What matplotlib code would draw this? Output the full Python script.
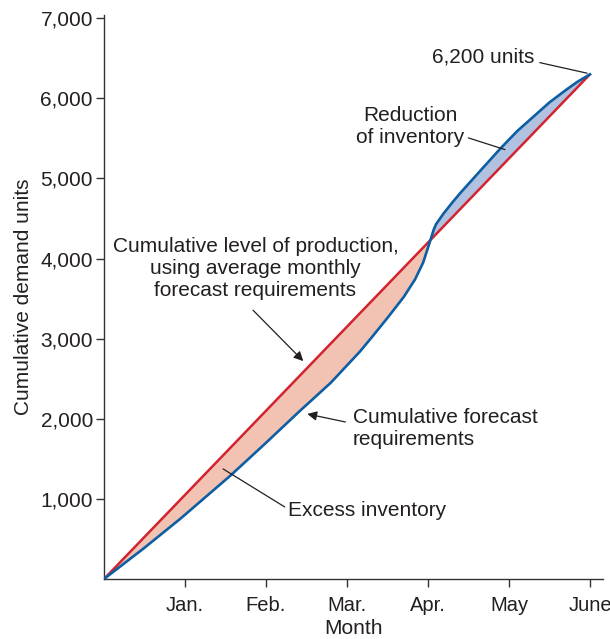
import numpy as np
import matplotlib
matplotlib.use("Agg")
import matplotlib.pyplot as plt

plt.rcParams['font.family'] = ['Liberation Sans', 'DejaVu Sans']

# Data (months since start; cumulative units)
month_ticks = [1, 2, 3, 4, 5, 6]
month_labels = ["Jan.", "Feb.", "Mar.", "Apr.", "May", "June"]
y_ticks = [1000, 2000, 3000, 4000, 5000, 6000, 7000]

production_x = [0, 6]
production_y = [0, 6300]

forecast_x = [0, 0.5, 0.94, 1.56, 2.0, 2.42, 2.8, 3.16, 3.3, 3.5, 3.7, 3.84, 3.94, 4.02,
              4.07, 4.1, 4.19, 4.3, 4.4, 4.64, 4.89, 5.1, 5.3, 5.5, 5.71, 5.85, 6.0]
forecast_y = [0, 390, 750, 1290, 1700, 2100, 2450, 2840, 3010, 3260, 3520, 3740, 3950, 4200,
              4360, 4430, 4560, 4700, 4820, 5090, 5370, 5590, 5770, 5950, 6110, 6210, 6300]

RED = "#d2232f"
BLUE = "#0d5ea3"
FILL_RED = "#f2c3b3"
FILL_BLUE = "#b1c1e0"
AX = "#333333"
TC = "#231f20"
FS = 15

fig = plt.figure(figsize=(6.10, 6.39), dpi=100)
ax = fig.add_axes([104/610, 1-579/639, (603-104)/610, (579-15)/639])

fx = np.array(forecast_x)
fy = np.array(forecast_y)
py = np.interp(fx, production_x, production_y)

ax.fill_between(fx, fy, py, where=py >= fy, interpolate=True, color=FILL_RED, lw=0, zorder=1)
ax.fill_between(fx, fy, py, where=py <= fy, interpolate=True, color=FILL_BLUE, lw=0, zorder=1)
ax.plot(production_x, production_y, color=RED, lw=1.8, zorder=3, solid_capstyle='butt')
ax.plot(forecast_x, forecast_y, color=BLUE, lw=1.9, zorder=3, solid_joinstyle='round')

ax.set_xlim(0, 6.16)
ax.set_ylim(0, 7040)
ax.set_xticks(month_ticks)
ax.set_xticklabels(month_labels)
ax.set_yticks(y_ticks)
ax.set_yticklabels([f"{v:,}" for v in y_ticks])
for s in ["top", "right"]:
    ax.spines[s].set_visible(False)
for s in ["left", "bottom"]:
    ax.spines[s].set_color(AX)
    ax.spines[s].set_linewidth(1.0)
ax.tick_params(axis='both', direction='out', length=6, width=1, color=AX,
               labelsize=FS, labelcolor=TC)
ax.tick_params(axis='x', pad=6, labelsize=14.5)
ax.tick_params(axis='y', pad=2)
ax.set_xlabel("Month", fontsize=FS, color=TC, labelpad=3)
ax.set_ylabel("Cumulative demand units", fontsize=FS, color=TC, labelpad=5)

# 6,200 units
ax.annotate("6,200 units", xy=(5.98, 6310), xytext=(4.68, 6520),
            ha='center', va='center', fontsize=FS, color=TC,
            arrowprops=dict(arrowstyle='-', color=TC, lw=0.9, shrinkA=2, shrinkB=1,
                            relpos=(1.0, 0.25)))
# Reduction of inventory
ax.annotate("Reduction\nof inventory", xy=(4.95, 5360), xytext=(3.78, 5650),
            ha='center', va='center', fontsize=FS, color=TC, linespacing=1.2,
            arrowprops=dict(arrowstyle='-', color=TC, lw=0.9, shrinkA=1, shrinkB=0,
                            relpos=(1.0, 0.25)))
# Cumulative level of production
ax.text(1.87, 3877, "Cumulative level of production,\nusing average monthly\nforecast requirements",
        ha='center', va='center', fontsize=FS, color=TC, linespacing=1.2)
ax.annotate("", xy=(2.46, 2720), xytext=(1.84, 3355),
            arrowprops=dict(arrowstyle='-|>', color=TC, lw=0.9, shrinkA=0, shrinkB=0,
                            mutation_scale=14))
# Cumulative forecast requirements
ax.text(3.07, 1880, "Cumulative forecast\nrequirements", ha='left', va='center',
        fontsize=FS, color=TC, linespacing=1.2)
ax.annotate("", xy=(2.51, 2060), xytext=(2.98, 1960),
            arrowprops=dict(arrowstyle='-|>', color=TC, lw=0.9, shrinkA=0, shrinkB=0,
                            mutation_scale=14))
# Excess inventory
ax.text(2.27, 850, "Excess inventory", ha='left', va='center', fontsize=FS, color=TC)
ax.annotate("", xy=(1.47, 1374), xytext=(2.23, 900),
            arrowprops=dict(arrowstyle='-', color=TC, lw=0.9, shrinkA=0, shrinkB=0))

fig.savefig("out.png", dpi=100)
